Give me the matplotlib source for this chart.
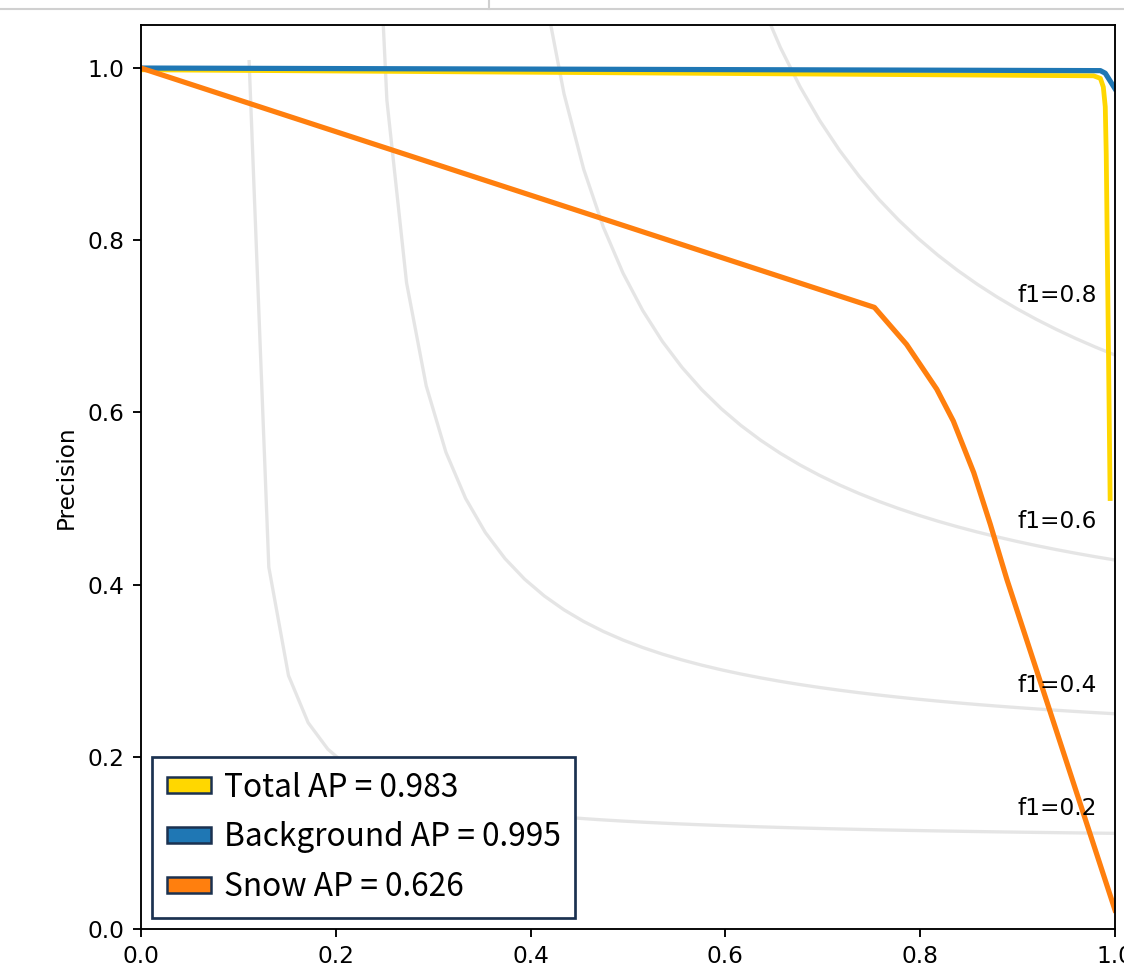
import os
import numpy as np
import matplotlib
matplotlib.use("Agg")
import matplotlib.pyplot as plt
from matplotlib import font_manager as fm
from matplotlib.patches import Patch
from matplotlib.lines import Line2D

dv_path = os.path.join(matplotlib.get_data_path(), "fonts", "ttf", "DejaVuSans.ttf")
TXT = 11.2
if os.path.exists(dv_path):
    fm.fontManager.addfont(dv_path)
    dv = fm.FontProperties(fname=dv_path, size=TXT)
else:
    dv = fm.FontProperties(family="DejaVu Sans", size=TXT)
plt.rcParams["font.family"] = ["DejaVu Sans"]

# ---- data ----
total_recall = [0.0, 0.978, 0.985, 0.988, 0.990, 0.991, 0.995]
total_precision = [0.998, 0.991, 0.988, 0.978, 0.955, 0.90, 0.50]

bg_recall = [0.0, 0.985, 0.990, 1.0]
bg_precision = [1.0, 0.997, 0.994, 0.976]

snow_recall = [0.0, 0.753, 0.786, 0.817, 0.834, 0.855, 0.872, 0.889, 1.0]
snow_precision = [1.0, 0.722, 0.679, 0.627, 0.590, 0.530, 0.470, 0.406, 0.022]

labels = ["Total AP = 0.983", "Background AP = 0.995", "Snow AP = 0.626"]
colors = ["#FFD700", "#1f77b4", "#ff7f0e"]

f_scores = [0.2, 0.4, 0.6, 0.8]
tick_vals = [0.0, 0.2, 0.4, 0.6, 0.8, 1.0]
tick_labels = ["0.0", "0.2", "0.4", "0.6", "0.8", "1.0"]

# ---- figure ----
W, H, DPI = 1124, 970, 150
fig = plt.figure(figsize=(W / DPI, H / DPI), dpi=DPI)
ax = fig.add_axes([141 / W, 1 - 929 / H, (1115 - 141) / W, (929 - 25) / H])

for f in f_scores:
    x = np.linspace(0.01, 1)
    y = f * x / (2 * x - f)
    ax.plot(x[y >= 0], y[y >= 0], color="gray", alpha=0.2, lw=1.6)
    ax.annotate("f1={0:0.1f}".format(f), xy=(0.9, y[45] + 0.02), fontproperties=dv)

ax.plot(total_recall, total_precision, color=colors[0], lw=2.3)
ax.plot(bg_recall, bg_precision, color=colors[1], lw=2.5)
ax.plot(snow_recall, snow_precision, color=colors[2], lw=2.5)

ax.set_xlim(0, 1.0)
ax.set_ylim(0, 1.05)
ax.set_xticks(tick_vals)
ax.set_xticklabels(tick_labels, fontproperties=dv)
ax.set_yticks(tick_vals)
ax.set_yticklabels(tick_labels, fontproperties=dv)
ax.tick_params(length=4, width=0.9, pad=3.8)
for s in ax.spines.values():
    s.set_linewidth(0.9)
ax.set_ylabel("Precision", fontproperties=dv, labelpad=5)

edge = "#1b3150"
fs = 15.2
handles = [Patch(facecolor=c, edgecolor=edge, linewidth=1.2) for c in colors]
leg = ax.legend(handles, labels, loc="lower left",
                prop={"family": ["Noto Sans CJK KR", "DejaVu Sans"], "size": fs},
                frameon=True, fancybox=False, framealpha=1,
                handlelength=1.38, handleheight=0.41, handletextpad=0.41,
                labelspacing=0.56, borderpad=0.47, borderaxespad=0.35)
leg.get_frame().set_edgecolor(edge)
leg.get_frame().set_linewidth(1.3)

# screenshot chrome at top
fig.add_artist(Line2D([0, 1], [1 - 9 / H, 1 - 9 / H], transform=fig.transFigure,
                      color="#d0d0d0", lw=1))
fig.add_artist(Line2D([489 / W, 489 / W], [1 - 9 / H, 1], transform=fig.transFigure,
                      color="#d0d0d0", lw=1))

fig.savefig("out.png", dpi=DPI)
